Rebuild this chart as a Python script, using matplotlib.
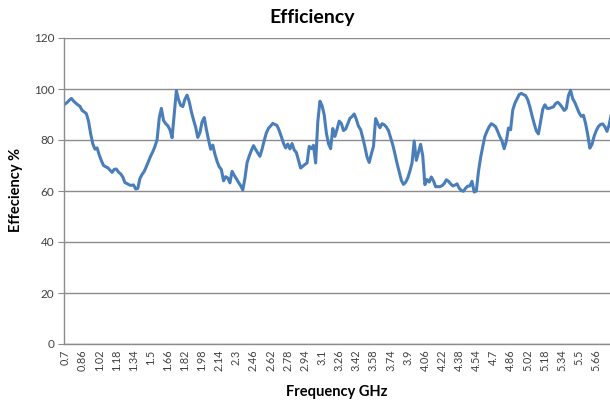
import numpy as np
import matplotlib
matplotlib.use("Agg")
import matplotlib.pyplot as plt

# Frequency grid (GHz), 0.02 GHz steps
freq_start = 0.70
freq_step = 0.02

efficiency = [
    94.1, 94.7, 95.6, 96.3, 95.3, 94.5, 93.8, 93.2, 91.6, 91.0,
    90.3, 87.4, 82.4, 78.5, 76.4, 76.9, 74.1, 71.9, 70.0, 69.5,
    69.1, 68.2, 67.3, 68.5, 68.6, 67.4, 66.7, 65.5, 63.3, 62.9,
    62.4, 62.2, 62.4, 60.8, 61.0, 64.9, 66.5, 67.7, 69.6, 71.7,
    73.7, 75.4, 77.5, 80.1, 88.6, 92.4, 87.7, 86.4, 85.6, 84.0,
    80.9, 90.0, 99.4, 95.9, 93.6, 93.1, 96.0, 97.6, 95.0, 91.1,
    87.9, 85.0, 81.0, 82.9, 87.1, 88.8, 84.2, 80.1, 76.4, 78.0,
    74.4, 71.6, 69.5, 68.4, 64.0, 65.6, 65.1, 63.2, 67.7, 66.2,
    64.8, 63.4, 62.1, 60.4, 65.0, 71.1, 73.7, 75.9, 77.8, 76.3,
    74.9, 73.6, 76.4, 79.8, 82.8, 84.6, 85.5, 86.5, 86.1, 85.7,
    83.7, 81.3, 78.7, 76.9, 78.4, 76.5, 78.6, 76.1, 75.1, 72.0,
    69.0, 69.7, 70.4, 71.0, 77.5, 76.6, 77.9, 71.0, 87.0, 95.2,
    93.5, 89.9, 82.8, 78.6, 76.6, 84.5, 81.4, 84.2, 87.4, 86.5,
    83.7, 84.3, 86.3, 88.5, 89.2, 90.2, 88.1, 85.4, 84.1, 80.9,
    77.3, 73.3, 71.2, 74.5, 77.5, 88.4, 86.5, 84.8, 86.4, 86.0,
    85.1, 83.7, 80.9, 78.1, 74.6, 70.9, 67.5, 64.2, 62.6, 63.4,
    65.1, 67.8, 71.0, 79.6, 72.0, 75.2, 78.3, 73.8, 62.5, 64.5,
    63.5, 65.5, 64.0, 61.7, 61.7, 61.7, 62.1, 62.9, 64.4, 63.8,
    62.8, 62.0, 62.3, 62.8, 61.1, 60.2, 59.9, 61.1, 61.9, 62.0,
    63.8, 59.6, 60.0, 67.6, 73.1, 77.4, 81.4, 83.5, 85.2, 86.4,
    85.9, 85.2, 83.3, 81.2, 79.6, 76.6, 79.5, 84.7, 84.0, 91.7,
    94.4, 96.1, 97.8, 98.3, 97.8, 97.4, 95.8, 93.0, 89.6, 86.4,
    83.6, 82.4, 87.2, 92.0, 93.8, 92.4, 92.4, 92.7, 93.0, 94.3,
    94.8, 94.0, 92.9, 91.6, 92.4, 97.4, 99.5, 96.2, 94.7, 92.6,
    90.6, 89.3, 89.7, 86.5, 82.1, 76.8, 78.3, 81.5, 83.7, 85.3,
    86.1, 86.3, 85.2, 83.4, 86.0, 90.1,
]

frequencies = [round(freq_start + freq_step * i, 2) for i in range(len(efficiency))]
label_every = 8
y_ticks = [0, 20, 40, 60, 80, 100, 120]

title = "Efficiency"
x_label = "Frequency GHz"
y_label = "Effeciency %"

plt.rcParams['font.family'] = ['Lato', 'DejaVu Sans']

fig = plt.figure(figsize=(6.10, 4.01), dpi=100)
W, H = 610, 401
ax = fig.add_axes([64 / W, 1 - 344 / H, (610 - 64) / W, (344 - 38) / H])

x = np.arange(len(efficiency))
ax.plot(x, efficiency, color='#4A7EBB', lw=2.2, solid_joinstyle='round', clip_on=True)

ax.set_ylim(0, 120)
ax.set_xlim(-0.45, len(efficiency) - 1.6)
ax.set_yticks(y_ticks)
ax.set_yticklabels([str(v) for v in y_ticks], fontsize=8.5, color='#404040')

tick_idx = list(range(0, len(efficiency), label_every))
ax.set_xticks(tick_idx)
ax.set_xticklabels([f"{frequencies[i]:g}" for i in tick_idx], rotation=90,
                   fontsize=7.8, color='#404040')

ax.grid(axis='y', color='#8c8c8c', lw=1.0)
ax.set_axisbelow(True)
for s in ['top', 'right']:
    ax.spines[s].set_visible(False)
for s in ['left', 'bottom']:
    ax.spines[s].set_color('#8c8c8c')
    ax.spines[s].set_linewidth(1.0)
ax.tick_params(axis='y', length=4, color='#8c8c8c', pad=3)
ax.tick_params(axis='x', length=0, pad=4)

fig.text(312 / W, 1 - 18 / H, title, ha='center', va='center',
         fontsize=14, fontweight='bold', color='black')
fig.text(337 / W, 1 - 392 / H, x_label, ha='center', va='center',
         fontsize=10.5, fontweight='bold', color='black')
fig.text(16 / W, 1 - 190 / H, y_label, ha='center', va='center', rotation=90,
         fontsize=10.5, fontweight='bold', color='black')

fig.savefig("out.png", dpi=100)
